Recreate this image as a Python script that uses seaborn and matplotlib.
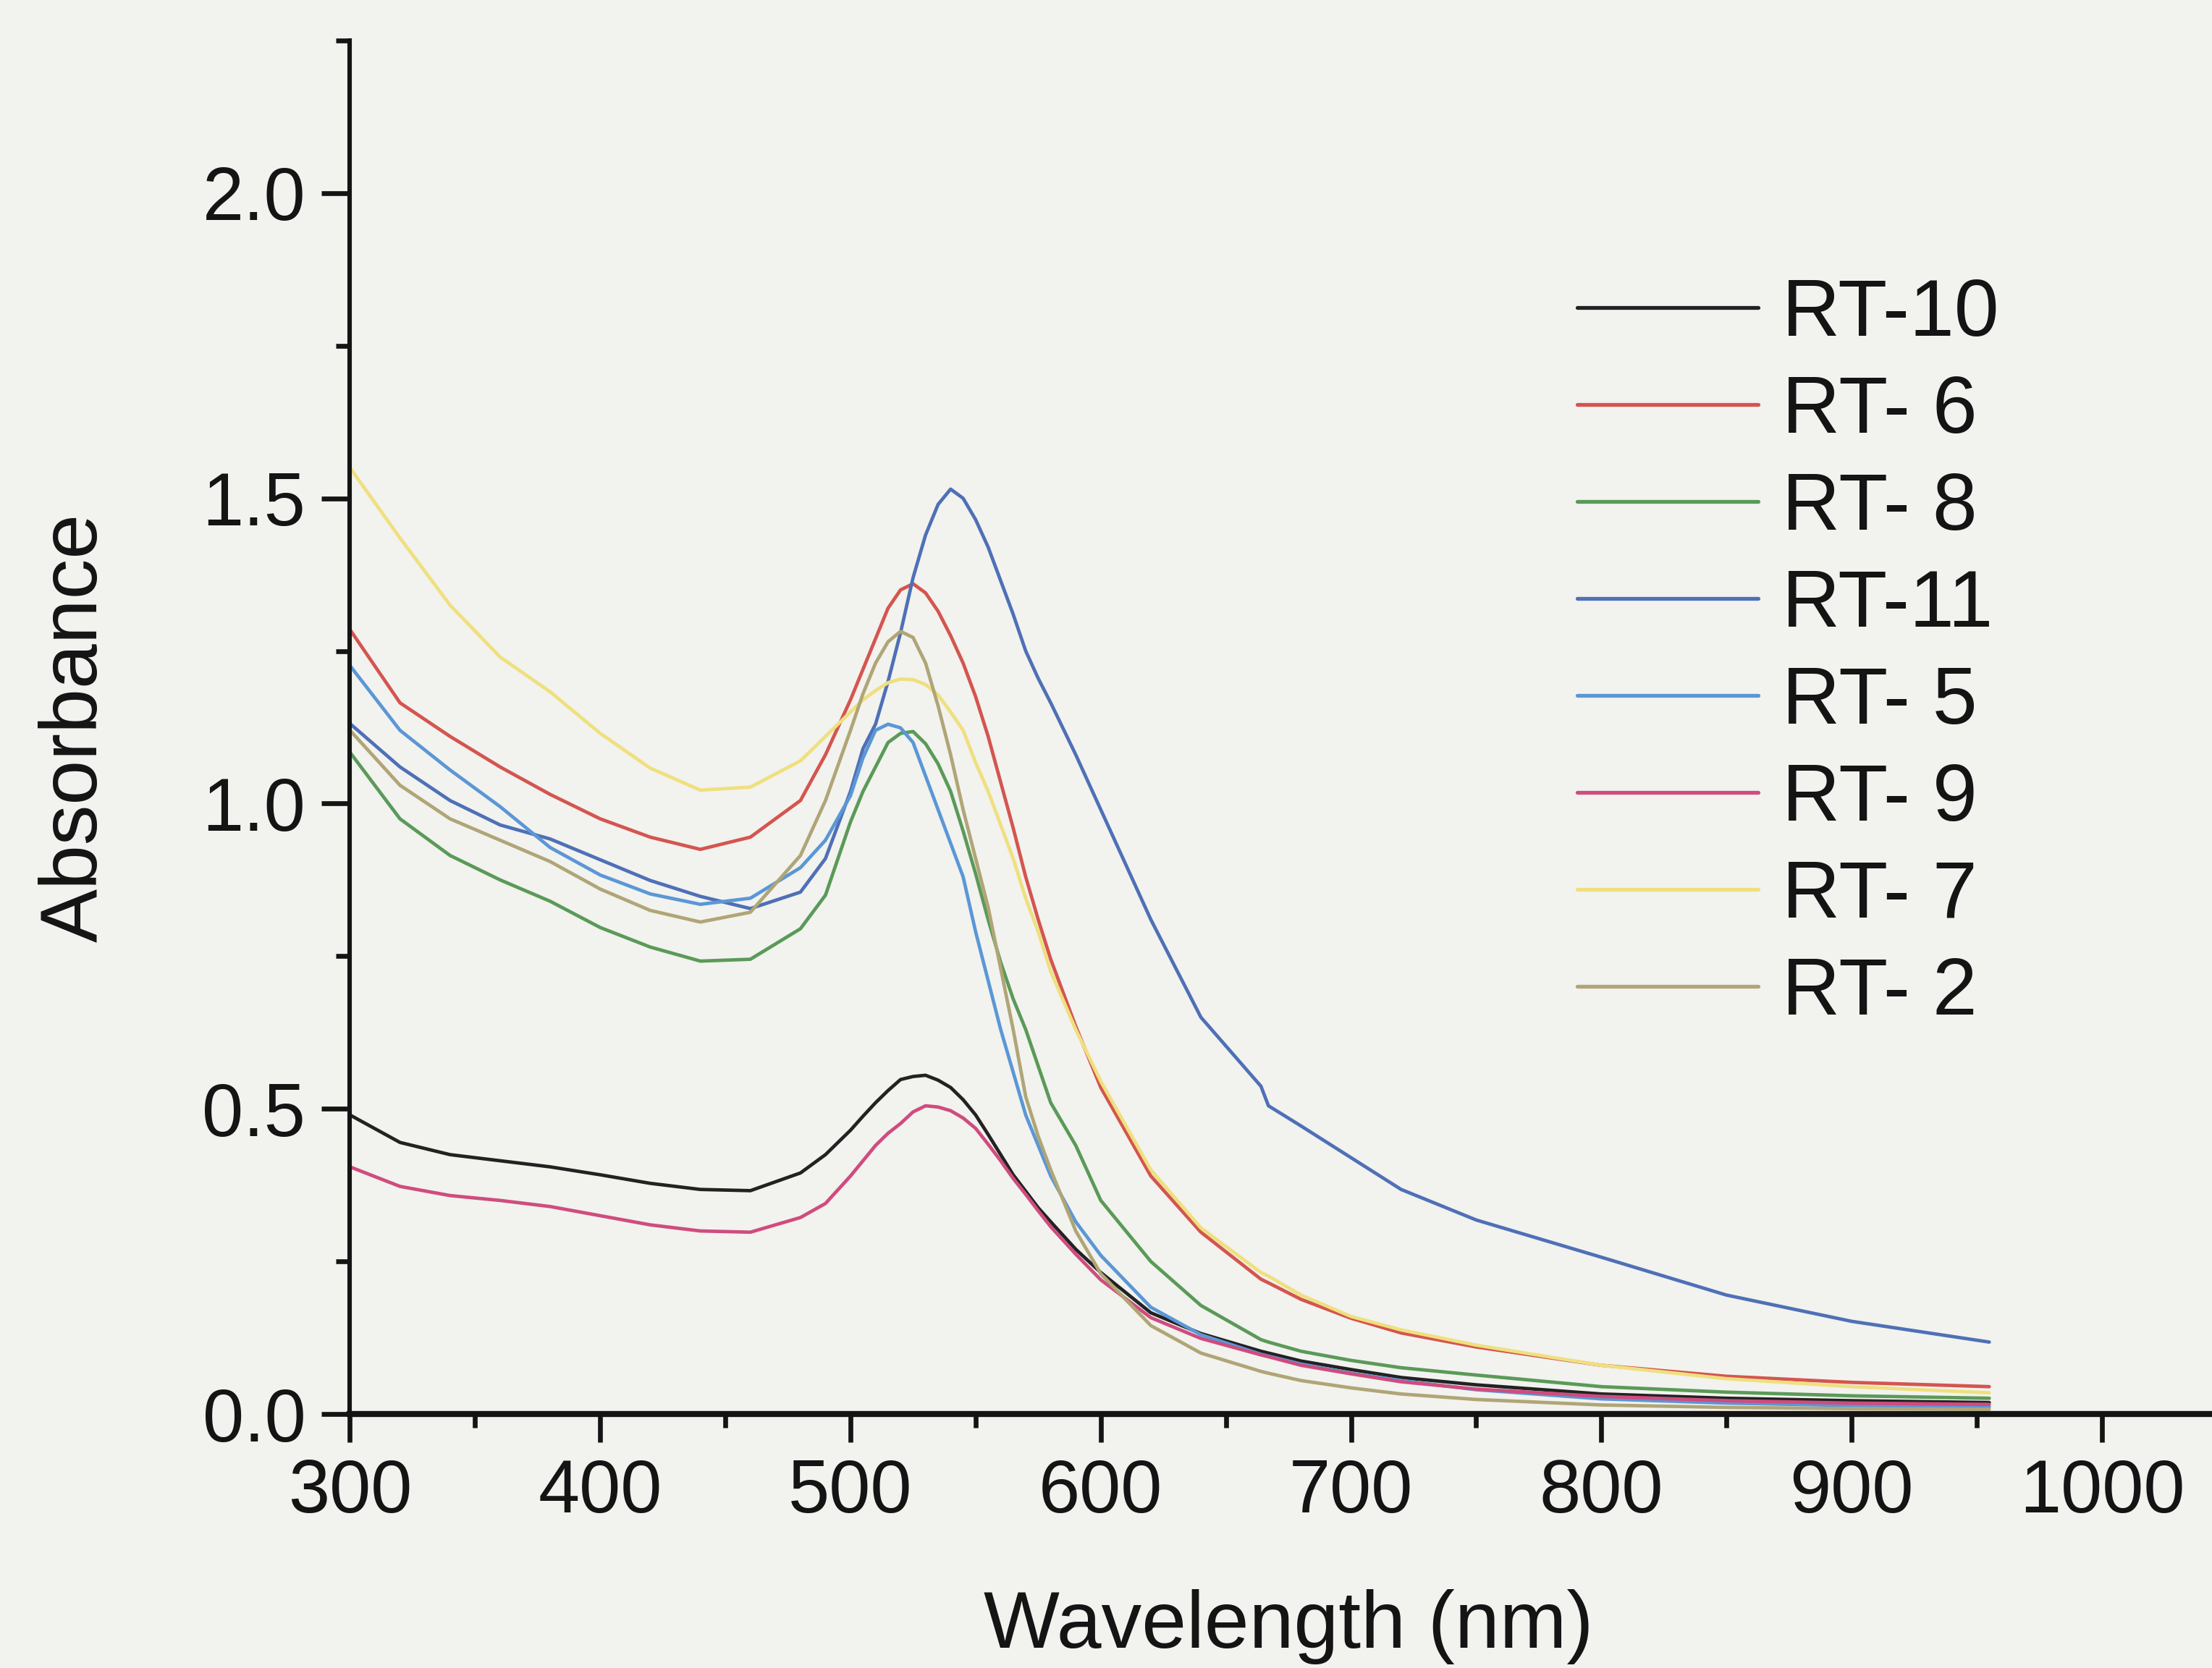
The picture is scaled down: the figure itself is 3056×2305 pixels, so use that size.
import numpy as np
import pandas as pd
import matplotlib
matplotlib.use('Agg')
import matplotlib.pyplot as plt
import seaborn as sns
from matplotlib.ticker import MultipleLocator, FormatStrFormatter

sns.set_theme(style="ticks")
plt.rcParams['font.family'] = ['Liberation Sans', 'DejaVu Sans']

# wavelength grid (nm) and absorbance
wavelength = [300, 320, 340, 360, 380, 400, 420, 440, 460, 480,
              490, 500, 505, 510, 515, 520, 525, 530, 535, 540,
              545, 550, 555, 560, 565, 570, 575, 580, 590, 600,
              620, 640, 664, 667, 680, 700, 720, 750, 800, 850,
              900, 955]

rt10 = [0.490, 0.445, 0.425, 0.415, 0.405, 0.392, 0.378, 0.368, 0.366, 0.395,
        0.425, 0.465, 0.488, 0.510, 0.530, 0.548, 0.553, 0.555, 0.547, 0.535,
        0.515, 0.490, 0.458, 0.425, 0.392, 0.365, 0.338, 0.315, 0.270, 0.232,
        0.166, 0.132, 0.103, 0.100, 0.087, 0.073, 0.060, 0.048, 0.033, 0.026,
        0.022, 0.019]
rt6 = [1.285, 1.165, 1.110, 1.060, 1.015, 0.975, 0.945, 0.925, 0.945, 1.005,
       1.080, 1.170, 1.220, 1.270, 1.320, 1.350, 1.360, 1.345, 1.315, 1.275,
       1.230, 1.175, 1.110, 1.035, 0.960, 0.880, 0.810, 0.745, 0.635, 0.535,
       0.390, 0.298, 0.221, 0.215, 0.188, 0.157, 0.133, 0.110, 0.080, 0.062,
       0.052, 0.045]
rt8 = [1.084, 0.975, 0.915, 0.875, 0.840, 0.797, 0.765, 0.742, 0.745, 0.795,
       0.850, 0.970, 1.020, 1.060, 1.100, 1.115, 1.118, 1.098, 1.065, 1.020,
       0.955, 0.885, 0.810, 0.740, 0.680, 0.630, 0.570, 0.510, 0.440, 0.350,
       0.250, 0.178, 0.122, 0.118, 0.103, 0.088, 0.076, 0.064, 0.045, 0.036,
       0.030, 0.026]
rt11 = [1.131, 1.060, 1.005, 0.965, 0.942, 0.908, 0.874, 0.848, 0.828, 0.855,
        0.910, 1.020, 1.090, 1.130, 1.200, 1.280, 1.370, 1.440, 1.490, 1.515,
        1.500, 1.465, 1.420, 1.365, 1.310, 1.250, 1.205, 1.165, 1.080, 0.990,
        0.810, 0.650, 0.537, 0.505, 0.472, 0.420, 0.368, 0.318, 0.257, 0.195,
        0.152, 0.118]
rt5 = [1.226, 1.120, 1.055, 0.995, 0.928, 0.883, 0.852, 0.835, 0.845, 0.895,
       0.940, 1.013, 1.075, 1.120, 1.130, 1.124, 1.100, 1.045, 0.990, 0.935,
       0.880, 0.790, 0.710, 0.630, 0.560, 0.490, 0.440, 0.390, 0.315, 0.260,
       0.175, 0.130, 0.098, 0.095, 0.082, 0.067, 0.055, 0.040, 0.025, 0.018,
       0.014, 0.012]
rt9 = [0.405, 0.373, 0.358, 0.350, 0.340, 0.325, 0.310, 0.300, 0.298, 0.322,
       0.345, 0.390, 0.415, 0.440, 0.460, 0.476, 0.495, 0.505, 0.503, 0.497,
       0.485, 0.468, 0.442, 0.415, 0.386, 0.360, 0.333, 0.307, 0.262, 0.220,
       0.158, 0.124, 0.097, 0.094, 0.080, 0.066, 0.053, 0.041, 0.029, 0.022,
       0.018, 0.016]
rt7 = [1.550, 1.435, 1.325, 1.240, 1.183, 1.115, 1.058, 1.022, 1.027, 1.070,
       1.110, 1.150, 1.170, 1.185, 1.198, 1.204, 1.203, 1.195, 1.178, 1.150,
       1.120, 1.067, 1.020, 0.965, 0.910, 0.845, 0.790, 0.725, 0.630, 0.545,
       0.400, 0.305, 0.232, 0.226, 0.195, 0.160, 0.138, 0.113, 0.080, 0.058,
       0.045, 0.035]
rt2 = [1.120, 1.030, 0.975, 0.940, 0.905, 0.860, 0.825, 0.806, 0.822, 0.915,
       1.005, 1.120, 1.180, 1.230, 1.265, 1.282, 1.272, 1.230, 1.160, 1.080,
       0.990, 0.910, 0.830, 0.730, 0.630, 0.520, 0.455, 0.400, 0.300, 0.230,
       0.145, 0.100, 0.070, 0.067, 0.055, 0.043, 0.033, 0.024, 0.015, 0.011,
       0.009, 0.008]

samples = ['RT-10', 'RT- 6', 'RT- 8', 'RT-11', 'RT- 5', 'RT- 9', 'RT- 7', 'RT- 2']
spectra = [rt10, rt6, rt8, rt11, rt5, rt9, rt7, rt2]
colors = ['#222222', '#d4554f', '#5a9a58', '#4e70b6', '#5b97d6', '#cf4c7e', '#efe07e', '#b0a576']

df = pd.concat([pd.DataFrame({'Wavelength': wavelength, 'Absorbance': s, 'Sample': name})
                for name, s in zip(samples, spectra)], ignore_index=True)

bg = '#f2f2ef'
ink = '#141414'
fig = plt.figure(figsize=(15.28, 11.525), dpi=200, facecolor=bg)
ax = fig.add_axes([0.1582, 0.1522, 0.8486, 0.8236])
ax.set_facecolor(bg)

sns.lineplot(data=df, x='Wavelength', y='Absorbance', hue='Sample', hue_order=samples,
             palette=dict(zip(samples, colors)), estimator=None, sort=False,
             linewidth=1.7, ax=ax)

ax.set_xlim(300, 1050)
ax.set_ylim(0, 2.25)
ax.xaxis.set_major_locator(MultipleLocator(100))
ax.xaxis.set_minor_locator(MultipleLocator(50))
ax.yaxis.set_major_locator(MultipleLocator(0.5))
ax.yaxis.set_minor_locator(MultipleLocator(0.25))
ax.yaxis.set_major_formatter(FormatStrFormatter('%.1f'))

for side in ['top', 'right']:
    ax.spines[side].set_visible(False)
ax.spines['left'].set_linewidth(2.2)
ax.spines['bottom'].set_linewidth(3.0)
ax.spines['left'].set_color(ink)
ax.spines['bottom'].set_color(ink)

ax.tick_params(which='major', direction='out', length=14, width=2.4, labelsize=37,
               pad=8, color=ink, labelcolor=ink)
ax.tick_params(which='minor', direction='out', length=7, width=2.4, color=ink)

ax.set_xlabel('Wavelength (nm)', fontsize=40, labelpad=30, color=ink)
ax.set_ylabel('Absorbance', fontsize=40, labelpad=44, color=ink)

handles, labels = ax.get_legend_handles_labels()
leg = ax.legend(handles, labels, loc='upper left', bbox_to_anchor=(0.713, 0.834),
                bbox_transform=fig.transFigure, frameon=False, fontsize=40,
                handlelength=2.25, handletextpad=0.3, labelspacing=0.27,
                borderpad=0, borderaxespad=0, labelcolor=ink)
for line in leg.get_lines():
    line.set_linewidth(1.9)

fig.savefig('out.png', dpi=200, facecolor=bg)
